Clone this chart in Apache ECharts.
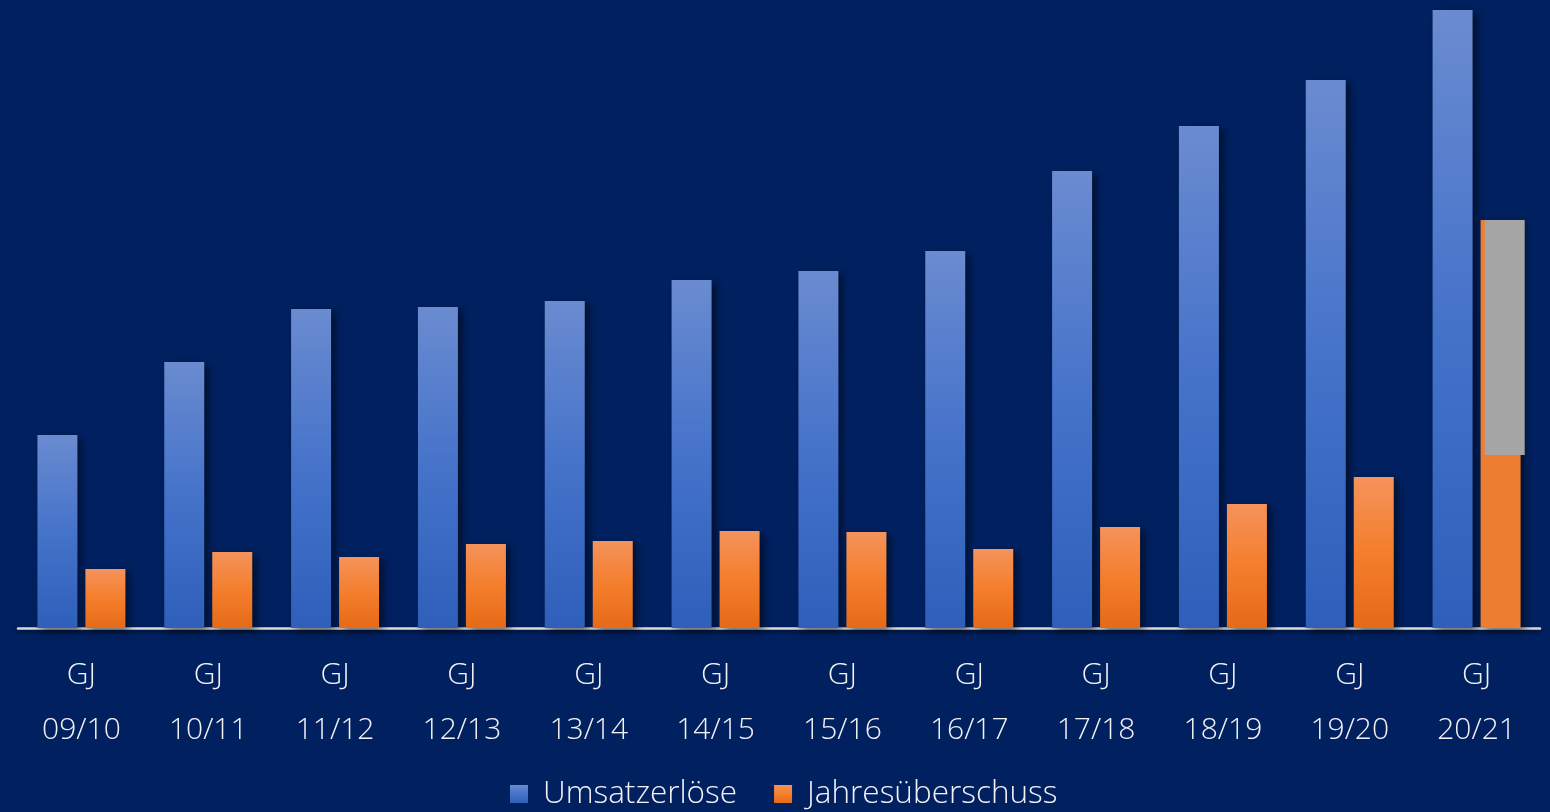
<!DOCTYPE html>
<html>
<head>
<meta charset="utf-8">
<script src="https://cdn.jsdelivr.net/npm/echarts@6/dist/echarts.min.js"></script>
<style>html,body{margin:0;padding:0;background:#002060;}#c{width:1550px;height:812px;}</style>
</head>
<body>
<div id="c"></div>
<script>
const categories = ['GJ\n09/10','GJ\n10/11','GJ\n11/12','GJ\n12/13','GJ\n13/14','GJ\n14/15','GJ\n15/16','GJ\n16/17','GJ\n17/18','GJ\n18/19','GJ\n19/20','GJ\n20/21'];
const umsatz = [193, 266, 319, 321, 327, 348, 357, 377, 457, 502, 548, 618];
const ueberschuss = [59, 76, 71, 84, 87, 97, 96, 79, 101, 124, 151, 408];
const grayBox = [[11, 173, 408]];

const chart = echarts.init(document.getElementById('c'));
const blueGrad = new echarts.graphic.LinearGradient(0,0,0,1,[
  {offset:0,color:'#6A8BD0'},{offset:0.5,color:'#4573CA'},{offset:1,color:'#2E5FBA'}]);
const orangeGrad = new echarts.graphic.LinearGradient(0,0,0,1,[
  {offset:0,color:'#F4935C'},{offset:0.5,color:'#F47E2C'},{offset:1,color:'#E66A18'}]);
const shadow = {shadowColor:'rgba(0,0,0,0.55)',shadowBlur:8,shadowOffsetX:4,shadowOffsetY:3};

chart.setOption({
  backgroundColor:'#002060',
  animation:false,
  grid:{left:18,right:10,top:8,bottom:184,containLabel:false},
  legend:{
    bottom:-3,left:505,itemWidth:18,itemHeight:18,itemGap:37,
    icon:'rect',
    textStyle:{color:'#F2F2F2',fontSize:31.5,fontFamily:'Open Sans',fontWeight:300,padding:[0,0,0,10]},
    data:[{name:'Umsatzerlöse',itemStyle:{color:blueGrad}},{name:'Jahresüberschuss',itemStyle:{color:orangeGrad}}]
  },
  xAxis:{
    type:'category',data:categories,
    axisLine:{lineStyle:{color:'#D9D9D9',width:2.5,shadowColor:'rgba(0,0,0,0.6)',shadowBlur:4,shadowOffsetY:2}},
    axisTick:{show:false},
    axisLabel:{color:'#F2F2F2',fontSize:30,fontFamily:'Open Sans',fontWeight:300,lineHeight:55,margin:20}
  },
  yAxis:{type:'value',min:0,max:620,show:false,splitLine:{show:false}},
  series:[
    {name:'Umsatzerlöse',type:'bar',data:umsatz,barWidth:40,barGap:'20%',
     itemStyle:Object.assign({color:blueGrad},shadow)},
    {name:'Jahresüberschuss',type:'bar',data:ueberschuss.map((v,i)=> i===11 ? {value:v,itemStyle:{color:'#ED7D31'}} : v),barWidth:40,
     itemStyle:Object.assign({color:orangeGrad},shadow)},
    {type:'custom',name:'gray',data:grayBox,z:5,
     renderItem:function(params,api){
       const idx=api.value(0);
       const lo=api.coord([idx,api.value(1)]);
       const hi=api.coord([idx,api.value(2)]);
       const band=api.size([1,0])[0];
       const w=band*0.315;
       const cx=lo[0]+band*0.222;
       return {type:'rect',shape:{x:cx-w/2,y:hi[1],width:w,height:lo[1]-hi[1]},style:{fill:'#A5A5A5'}};
     }}
  ]
});
</script>
</body>
</html>
